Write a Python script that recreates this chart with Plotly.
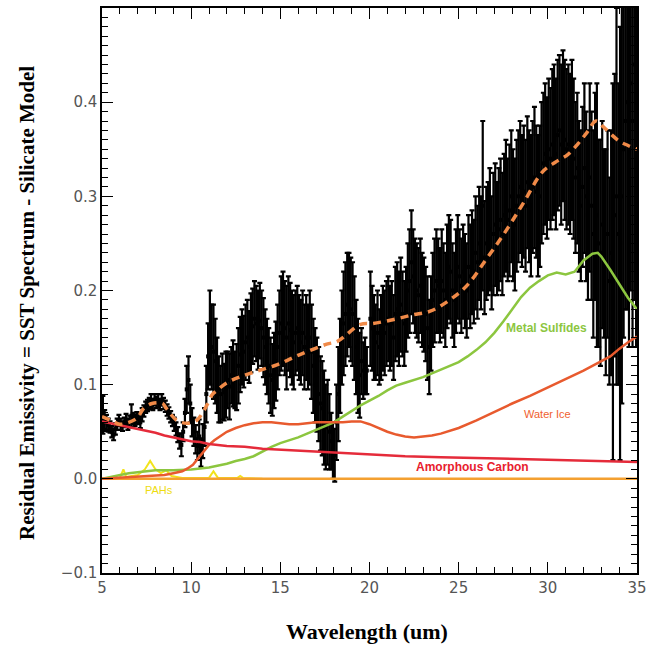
import plotly.graph_objects as go

# ---------------- Data ----------------
# Observed residual spectrum (wavelength in um, value, 1-sigma error)
spec_w = [
    5.05, 5.15, 5.25, 5.35, 5.45, 5.55, 5.65, 5.75, 5.85, 5.95,
    6.05, 6.15, 6.25, 6.35, 6.45, 6.55, 6.65, 6.75, 6.85, 6.95,
    7.05, 7.15, 7.25, 7.35, 7.45, 7.55, 7.65, 7.75, 7.85, 7.95,
    8.05, 8.15, 8.25, 8.35, 8.45, 8.55, 8.65, 8.75, 8.85, 8.95,
    9.05, 9.15, 9.25, 9.35, 9.45, 9.55, 9.65, 9.75, 9.85, 9.95,
    10.05, 10.15, 10.25, 10.35, 10.45, 10.55, 10.65, 10.75, 10.85, 10.95,
    11.05, 11.15, 11.25, 11.35, 11.45, 11.55, 11.65, 11.75, 11.85, 11.95,
    12.05, 12.15, 12.25, 12.35, 12.45, 12.55, 12.65, 12.75, 12.85, 12.95,
    13.05, 13.15, 13.25, 13.35, 13.45, 13.55, 13.65, 13.75, 13.85, 13.95,
    14.05, 14.15, 14.25, 14.35, 14.45, 14.55, 14.65, 14.75, 14.85, 14.95,
    15.05, 15.15, 15.25, 15.35, 15.45, 15.55, 15.65, 15.75, 15.85, 15.95,
    16.05, 16.15, 16.25, 16.35, 16.45, 16.55, 16.65, 16.75, 16.85, 16.95,
    17.05, 17.15, 17.25, 17.35, 17.45, 17.55, 17.65, 17.75, 17.85, 17.95,
    18.05, 18.15, 18.25, 18.35, 18.45, 18.55, 18.65, 18.75, 18.85, 18.95,
    19.05, 19.15, 19.25, 19.35, 19.45, 19.55, 19.65, 19.75, 19.85,
    20.05, 20.15, 20.25, 20.35, 20.45, 20.55, 20.65, 20.75, 20.85, 20.95,
    21.05, 21.15, 21.25, 21.35, 21.45, 21.55, 21.65, 21.75, 21.85, 21.95,
    22.05, 22.15, 22.25, 22.35, 22.45, 22.55, 22.65, 22.75, 22.85, 22.95,
    23.05, 23.15, 23.25, 23.35, 23.45, 23.55, 23.65, 23.75, 23.85, 23.95,
    24.05, 24.15, 24.25, 24.35, 24.45, 24.55, 24.65, 24.75, 24.85, 24.95,
    25.05, 25.15, 25.25, 25.35, 25.45, 25.55, 25.65, 25.75, 25.85, 25.95,
    26.05, 26.15, 26.25, 26.35, 26.45, 26.55, 26.65, 26.75, 26.85, 26.95,
    27.05, 27.15, 27.25, 27.35, 27.45, 27.55, 27.65, 27.75, 27.85, 27.95,
    28.05, 28.15, 28.25, 28.35, 28.45, 28.55, 28.65, 28.75, 28.85, 28.95,
    29.05, 29.15, 29.25, 29.35, 29.45, 29.55, 29.65, 29.75, 29.85, 29.95,
    30.05, 30.15, 30.25, 30.35, 30.45, 30.55, 30.65, 30.75, 30.85, 30.95,
    31.05, 31.15, 31.25, 31.35, 31.45, 31.55, 31.65, 31.75, 31.85, 31.95,
    32.05, 32.15, 32.25, 32.35, 32.45, 32.55, 32.65, 32.75, 32.85, 32.95,
    33.05, 33.15, 33.25, 33.35, 33.45, 33.55, 33.65, 33.75, 33.85, 33.95,
    34.05, 34.15, 34.25, 34.35, 34.45, 34.55, 34.65, 34.75, 34.85, 34.95,
]
spec_v = [
    0.068, 0.063, 0.060, 0.057, 0.055, 0.050, 0.047, 0.053, 0.058, 0.062,
    0.058, 0.056, 0.060, 0.063, 0.058, 0.061, 0.067, 0.064, 0.062, 0.065,
    0.064, 0.060, 0.068, 0.072, 0.076, 0.078, 0.080, 0.082, 0.079, 0.084,
    0.081, 0.083, 0.079, 0.084, 0.080, 0.077, 0.073, 0.070, 0.066, 0.062,
    0.058, 0.053, 0.047, 0.040, 0.036, 0.050, 0.070, 0.095, 0.105, 0.080,
    0.060, 0.050, 0.042, 0.035, 0.045, 0.028, 0.040, 0.055, 0.090, 0.130,
    0.150, 0.140, 0.135, 0.125, 0.110, 0.095, 0.090, 0.098, 0.092, 0.100,
    0.105, 0.098, 0.110, 0.112, 0.105, 0.108, 0.120, 0.132, 0.140, 0.135,
    0.145, 0.150, 0.140, 0.155, 0.162, 0.170, 0.165, 0.158, 0.168, 0.160,
    0.150, 0.140, 0.130, 0.120, 0.110, 0.105, 0.115, 0.125, 0.140, 0.155,
    0.165, 0.170, 0.160, 0.150, 0.165, 0.158, 0.150, 0.145, 0.155, 0.160,
    0.150, 0.145, 0.155, 0.140, 0.150, 0.140, 0.150, 0.135, 0.120, 0.110,
    0.100, 0.090, 0.080, 0.075, 0.065, 0.055, 0.060, 0.050, 0.040, 0.030,
    0.025, 0.060, 0.090, 0.120, 0.150, 0.165, 0.175, 0.185, 0.190, 0.180,
    0.175, 0.160, 0.140, 0.120, 0.110, 0.125, 0.115, 0.120, 0.115,
    0.170, 0.160, 0.150, 0.145, 0.155, 0.140, 0.150, 0.160, 0.155, 0.165,
    0.170, 0.160, 0.165, 0.150, 0.175, 0.180, 0.170, 0.185, 0.175, 0.165,
    0.180, 0.200, 0.210, 0.230, 0.215, 0.205, 0.200, 0.195, 0.205, 0.190,
    0.185, 0.175, 0.160, 0.140, 0.165, 0.190, 0.200, 0.210, 0.205, 0.195,
    0.210, 0.200, 0.190, 0.215, 0.225, 0.220, 0.200, 0.190, 0.210, 0.225,
    0.215, 0.205, 0.220, 0.210, 0.200, 0.225, 0.215, 0.230, 0.220, 0.240,
    0.230, 0.250, 0.240, 0.290, 0.235, 0.250, 0.255, 0.265, 0.240, 0.260,
    0.270, 0.255, 0.265, 0.275, 0.260, 0.280, 0.290, 0.275, 0.285, 0.300,
    0.280, 0.270, 0.290, 0.300, 0.310, 0.295, 0.305, 0.290, 0.315, 0.300,
    0.290, 0.310, 0.320, 0.305, 0.290, 0.300, 0.325, 0.335, 0.345, 0.330,
    0.350, 0.340, 0.355, 0.360, 0.345, 0.365, 0.370, 0.355, 0.375, 0.360,
    0.350, 0.355, 0.345, 0.360, 0.340, 0.320, 0.330, 0.300, 0.290, 0.310,
    0.330, 0.300, 0.280, 0.320, 0.290, 0.260, 0.300, 0.280, 0.250, 0.240,
    0.270, 0.250, 0.230, 0.260, 0.210, 0.240, 0.220, 0.280, 0.300, 0.260,
    0.250, 0.300, 0.350, 0.380, 0.400, 0.340, 0.420, 0.380, 0.440, 0.400,
]
spec_e = [
    0.020, 0.010, 0.008, 0.007, 0.006, 0.006, 0.006, 0.006, 0.006, 0.006,
    0.006, 0.005, 0.005, 0.006, 0.006, 0.006, 0.012, 0.006, 0.006, 0.006,
    0.006, 0.006, 0.007, 0.006, 0.006, 0.006, 0.006, 0.008, 0.006, 0.006,
    0.006, 0.007, 0.006, 0.006, 0.006, 0.006, 0.006, 0.006, 0.006, 0.006,
    0.007, 0.007, 0.008, 0.008, 0.012, 0.010, 0.015, 0.025, 0.025, 0.020,
    0.015, 0.015, 0.015, 0.015, 0.018, 0.015, 0.018, 0.020, 0.030, 0.035,
    0.050, 0.045, 0.050, 0.045, 0.040, 0.035, 0.030, 0.035, 0.030, 0.035,
    0.030, 0.035, 0.030, 0.035, 0.030, 0.035, 0.040, 0.040, 0.040, 0.038,
    0.040, 0.040, 0.038, 0.042, 0.040, 0.040, 0.040, 0.042, 0.040, 0.040,
    0.042, 0.040, 0.040, 0.040, 0.040, 0.038, 0.040, 0.042, 0.045, 0.045,
    0.050, 0.050, 0.050, 0.055, 0.050, 0.050, 0.050, 0.050, 0.045, 0.045,
    0.045, 0.045, 0.045, 0.045, 0.045, 0.045, 0.050, 0.050, 0.050, 0.050,
    0.050, 0.050, 0.050, 0.050, 0.050, 0.045, 0.045, 0.040, 0.030, 0.030,
    0.028, 0.040, 0.050, 0.050, 0.050, 0.055, 0.055, 0.055, 0.050, 0.055,
    0.055, 0.055, 0.050, 0.050, 0.045, 0.035, 0.030, 0.030, 0.025,
    0.050, 0.045, 0.045, 0.040, 0.045, 0.040, 0.045, 0.045, 0.045, 0.045,
    0.045, 0.045, 0.045, 0.045, 0.050, 0.050, 0.050, 0.050, 0.045, 0.045,
    0.045, 0.050, 0.055, 0.055, 0.050, 0.050, 0.050, 0.050, 0.050, 0.050,
    0.050, 0.050, 0.055, 0.050, 0.050, 0.050, 0.055, 0.055, 0.050, 0.050,
    0.055, 0.050, 0.050, 0.055, 0.055, 0.055, 0.050, 0.050, 0.055, 0.055,
    0.050, 0.050, 0.050, 0.050, 0.050, 0.055, 0.055, 0.055, 0.055, 0.060,
    0.060, 0.060, 0.060, 0.090, 0.060, 0.060, 0.060, 0.065, 0.060, 0.065,
    0.065, 0.060, 0.065, 0.065, 0.065, 0.065, 0.070, 0.065, 0.070, 0.070,
    0.070, 0.070, 0.070, 0.070, 0.070, 0.070, 0.070, 0.070, 0.070, 0.070,
    0.075, 0.070, 0.075, 0.070, 0.075, 0.075, 0.075, 0.075, 0.075, 0.075,
    0.075, 0.075, 0.080, 0.080, 0.080, 0.080, 0.080, 0.085, 0.080, 0.085,
    0.085, 0.085, 0.085, 0.085, 0.085, 0.080, 0.080, 0.080, 0.080, 0.085,
    0.090, 0.090, 0.090, 0.100, 0.100, 0.110, 0.110, 0.140, 0.110, 0.120,
    0.110, 0.100, 0.120, 0.110, 0.110, 0.130, 0.200, 0.150, 0.200, 0.160,
    0.230, 0.220, 0.200, 0.200, 0.220, 0.200, 0.220, 0.240, 0.250, 0.260,
]

# Best-fit model (dashed orange)
fit_w = [5.0, 5.5, 6.0, 6.5, 7.0, 7.3, 7.8, 8.4, 8.6, 9.2, 9.75, 10.3, 10.7,
         10.9, 11.2, 11.4, 12.0, 13.3, 14.8, 16.1, 17.6, 18.2, 19.5, 20.2,
         21.3, 22.4, 23.4, 24.5, 25.5, 26.5, 27.5, 28.6, 29.7, 30.4, 31.1,
         31.7, 32.2, 32.7, 33.1, 33.6, 34.05, 34.5, 35.0]
fit_v = [0.066, 0.062, 0.058, 0.060, 0.065, 0.074, 0.080, 0.080, 0.075, 0.062,
         0.059, 0.062, 0.072, 0.079, 0.090, 0.093, 0.102, 0.112, 0.121, 0.132,
         0.143, 0.146, 0.164, 0.165, 0.169, 0.174, 0.178, 0.190, 0.206, 0.232,
         0.259, 0.292, 0.326, 0.336, 0.344, 0.356, 0.368, 0.380, 0.374, 0.365,
         0.358, 0.354, 0.350]

# Component: amorphous carbon
carbon_w = [5.0, 5.5, 6.0, 6.5, 7.0, 7.5, 8.0, 8.5, 9.0, 9.5, 10.0, 10.5, 11.0,
            12.0, 13.0, 14.0, 15.0, 16.0, 17.0, 18.0, 19.0, 20.0, 21.0, 22.0,
            24.0, 26.0, 28.0, 30.0, 32.0, 33.5, 35.0]
carbon_v = [0.061, 0.059, 0.057, 0.055, 0.053, 0.051, 0.049, 0.046, 0.044,
            0.042, 0.040, 0.039, 0.037, 0.035, 0.034, 0.032, 0.031, 0.030,
            0.029, 0.028, 0.027, 0.026, 0.025, 0.024, 0.023, 0.022, 0.021,
            0.020, 0.019, 0.019, 0.018]

# Component: water ice
ice_w = [5.0, 6.0, 7.0, 8.0, 8.5, 9.0, 9.5, 9.8, 10.1, 10.4, 10.7, 11.0, 11.3,
         11.6, 12.0, 12.5, 13.0, 13.5, 14.0, 14.5, 15.0, 15.5, 16.0, 16.5,
         17.0, 17.5, 18.0, 18.5, 19.0, 19.5, 20.0, 20.5, 21.0, 21.5, 22.0,
         22.5, 23.0, 23.5, 24.0, 25.0, 26.0, 27.0, 28.0, 29.0, 30.0, 31.0,
         32.0, 33.0, 33.5, 34.0, 34.5, 35.0]
ice_v = [0.000, 0.001, 0.002, 0.003, 0.004, 0.006, 0.008, 0.011, 0.015, 0.022,
         0.029, 0.036, 0.041, 0.045, 0.050, 0.054, 0.057, 0.059, 0.060, 0.060,
         0.059, 0.058, 0.058, 0.059, 0.060, 0.060, 0.060, 0.060, 0.061, 0.061,
         0.058, 0.054, 0.050, 0.047, 0.045, 0.044, 0.045, 0.046, 0.048, 0.054,
         0.062, 0.071, 0.080, 0.088, 0.097, 0.106, 0.115, 0.125, 0.130, 0.138,
         0.145, 0.151]

# Component: metal sulfides
sulf_w = [5.0, 5.5, 6.0, 6.5, 7.0, 7.5, 8.0, 9.0, 10.0, 11.0, 12.0, 12.5, 13.0,
          13.5, 14.0, 14.5, 15.0, 15.5, 16.0, 16.5, 17.0, 17.5, 18.0, 18.5,
          19.0, 19.5, 20.0, 20.5, 21.0, 21.5, 22.0, 22.5, 23.0, 23.5, 24.0,
          24.5, 25.0, 25.5, 26.0, 26.5, 27.0, 27.5, 28.0, 28.5, 29.0, 29.5,
          30.0, 30.5, 31.0, 31.5, 32.0, 32.5, 32.8, 33.0, 33.5, 34.0, 34.5,
          35.0]
sulf_v = [0.000, 0.002, 0.004, 0.006, 0.007, 0.008, 0.009, 0.009, 0.010, 0.012,
          0.016, 0.019, 0.021, 0.024, 0.029, 0.034, 0.038, 0.041, 0.044, 0.048,
          0.052, 0.056, 0.060, 0.066, 0.072, 0.078, 0.083, 0.088, 0.094, 0.099,
          0.102, 0.105, 0.108, 0.112, 0.116, 0.120, 0.124, 0.130, 0.137, 0.145,
          0.155, 0.167, 0.180, 0.193, 0.203, 0.210, 0.216, 0.219, 0.217, 0.220,
          0.232, 0.239, 0.240, 0.236, 0.222, 0.207, 0.192, 0.180]

# Component: PAHs
pah_w = [5.0, 6.0, 6.2, 6.35, 7.0, 7.4, 7.7, 8.0, 8.3, 8.6, 8.9, 9.5, 11.0,
         11.25, 11.5, 12.6, 12.75, 12.9, 14.0]
pah_v = [0.000, 0.001, 0.010, 0.002, 0.004, 0.010, 0.019, 0.010, 0.006, 0.009,
         0.003, 0.001, 0.001, 0.008, 0.001, 0.001, 0.003, 0.001, 0.000]

# Zero level
zero_w = [5.0, 35.0]
zero_v = [0.0, 0.0]

x_ticks = [5, 10, 15, 20, 25, 30, 35]
y_ticks = [-0.1, 0.0, 0.1, 0.2, 0.3, 0.4, 0.5]

# Component labels: (text, wavelength, value, colour, size, bold)
labels = [
    ("Metal Sulfides", 29.9, 0.160, "#8cc63f", 12, True),
    ("Water Ice", 30.0, 0.069, "#f0602e", 11, False),
    ("Amorphous Carbon", 25.75, 0.013, "#e8202e", 12, True),
    ("PAHs", 8.2, -0.012, "#eedc10", 11, False),
]

# ---------------- Figure ----------------
fig = go.Figure()

fig.add_trace(go.Scatter(
    x=spec_w, y=spec_v, mode="markers",
    marker=dict(color="black", size=4, symbol="square"),
    error_y=dict(type="data", array=spec_e, color="black", thickness=2.2, width=2.5),
    showlegend=False, hoverinfo="skip"))

fig.add_trace(go.Scatter(x=pah_w, y=pah_v, mode="lines",
                         line=dict(color="#f2e31b", width=2), showlegend=False))
fig.add_trace(go.Scatter(x=zero_w, y=zero_v, mode="lines",
                         line=dict(color="#f4a030", width=2.5), showlegend=False))
fig.add_trace(go.Scatter(x=sulf_w, y=sulf_v, mode="lines",
                         line=dict(color="#8cc63f", width=2.5), showlegend=False))
fig.add_trace(go.Scatter(x=ice_w, y=ice_v, mode="lines",
                         line=dict(color="#e85a2e", width=2.5), showlegend=False))
fig.add_trace(go.Scatter(x=carbon_w, y=carbon_v, mode="lines",
                         line=dict(color="#e52b3a", width=2.5), showlegend=False))
fig.add_trace(go.Scatter(x=fit_w, y=fit_v, mode="lines",
                         line=dict(color="#f08a48", width=3.5, dash="8px,6px", shape="spline"),
                         showlegend=False))

annotations = []
for text, lx, ly, col, sz, bold in labels:
    annotations.append(dict(
        x=lx, y=ly, xref="x", yref="y", showarrow=False,
        text=f"<b>{text}</b>" if bold else text,
        font=dict(family="Liberation Sans, Arial, sans-serif", size=sz, color=col)))

annotations.append(dict(
    x=-0.140, y=0.478, xref="paper", yref="paper", showarrow=False, textangle=-90,
    text="<b>Residual Emissivity = SST Spectrum - Silicate Model</b>",
    font=dict(family="Liberation Serif, Times New Roman, serif", size=21, color="black"),
    xanchor="center", yanchor="middle"))
annotations.append(dict(
    x=0.495, y=-0.104, xref="paper", yref="paper", showarrow=False,
    text="<b>Wavelength (um)</b>",
    font=dict(family="Liberation Serif, Times New Roman, serif", size=22, color="black"),
    xanchor="center", yanchor="middle"))

axis_common = dict(
    showgrid=False, zeroline=False, showline=True, linecolor="black", linewidth=1.5,
    mirror="ticks", ticks="inside", ticklen=11, tickwidth=1.2, tickcolor="black",
    tickfont=dict(family="DejaVu Sans, Liberation Sans, sans-serif", size=15, color="#555555"),
)

fig.update_layout(
    width=658, height=647,
    margin=dict(l=102, r=21, t=6, b=74),
    paper_bgcolor="white", plot_bgcolor="white",
    annotations=annotations,
    xaxis=dict(range=[5, 35], tickvals=x_ticks, ticktext=[str(t) for t in x_ticks],
               minor=dict(ticks="inside", ticklen=6, dtick=1, tickcolor="black", tickwidth=1),
               **axis_common),
    yaxis=dict(range=[-0.1, 0.5], tickvals=y_ticks,
               ticktext=[("\u22120.1" if t < 0 else f"{t:.1f}") for t in y_ticks],
               minor=dict(ticks="inside", ticklen=6, dtick=0.01, tickcolor="black", tickwidth=1),
               **axis_common),
)

fig.write_html("out.html", config={"displayModeBar": False},
               post_script="document.body.style.margin='0px';document.body.style.overflow='hidden';")
